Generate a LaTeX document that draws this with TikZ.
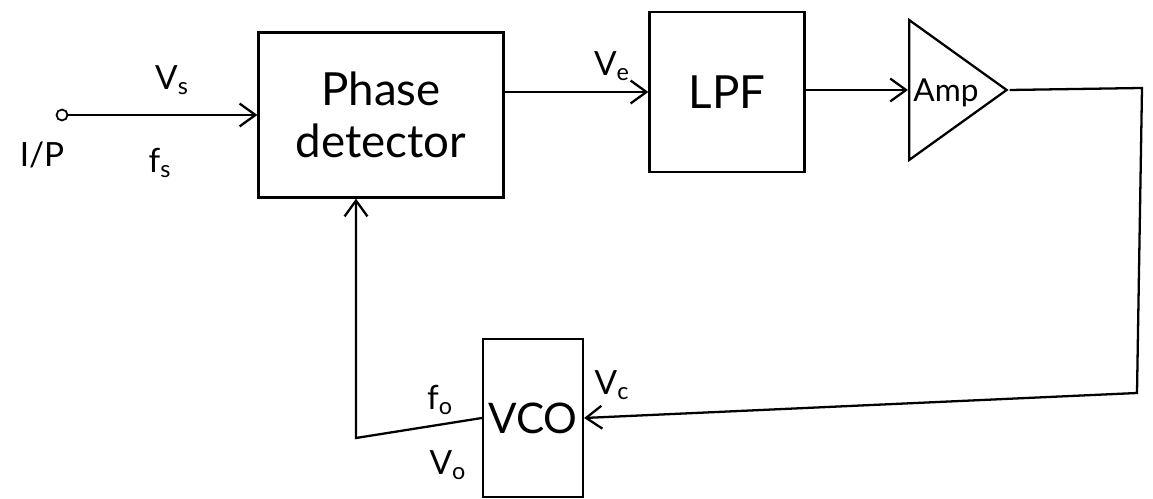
\documentclass[tikz,border=0pt]{standalone}
\usepackage{fontspec}
\setmainfont{Lato}
\usetikzlibrary{arrows.meta, positioning, shapes.geometric}

\begin{document}
\begin{tikzpicture}[
  x=0.02cm, y=-0.02cm,
  blk/.style={draw, line width=1.3pt, inner sep=0pt, align=center,
              font=\fontsize{26}{30}\selectfont},
  amp/.style={draw, line width=1.3pt, isosceles triangle, isosceles triangle stretches,
              shape border rotate=0, inner sep=0pt, minimum width=2.8cm, minimum height=1.95cm},
  arr/.style={-{Straight Barb[length=9pt, width=13pt]}, line width=1.3pt},
  lbl/.style={font=\fontsize{19}{22}\selectfont}
]
\useasboundingbox (0,0) rectangle (1153,499);

% blocks
\node[blk, minimum width=4.9cm, minimum height=3.3cm] (pd) at (381,115) {Phase\\detector};
\node[blk, minimum width=3.1cm, minimum height=3.2cm] (lpf) at (727,92) {LPF};
\node[amp, anchor=lower side] (amp) at (908,90) {};
\node[font=\fontsize{18}{20}\selectfont] (amplbl) at (946,93) {Amp};
\node[blk, minimum width=2cm, minimum height=3.15cm, font=\fontsize{24}{28}\selectfont] (vco) at (533,418) {VCO};
\node[draw, circle, line width=1pt, inner sep=2.2pt] (inp) at (62,115) {};

% corner points of the loop
\coordinate (c1) at (1142,88);
\coordinate (c2) at (1137,393);
\coordinate (fb) at (356,438);

% forward path
\draw[arr] (inp) -- (pd);
\draw[arr] (pd.east |- lpf.west) -- (lpf.west);
\draw[arr] (lpf.east |- amp.lower side) -- (amp.lower side);

% feedback path
\draw[arr] (amp.apex) -- (c1) -- (c2) -- (vco.east);
\draw[arr] (vco.west) -- (fb) -- (fb |- pd.south);

% labels
\node[lbl] (vs) at (172,80) {V\textsubscript{s}};
\node[lbl] (fs) at (160,163) {f\textsubscript{s}};
\node[lbl] (ip) at (42,155) {I/P};
\node[lbl] (ve) at (612,66) {V\textsubscript{e}};
\node[lbl] (vc) at (612,385) {V\textsubscript{c}};
\node[lbl] (fo) at (440,400) {f\textsubscript{o}};
\node[lbl] (vo) at (448,465) {V\textsubscript{o}};
\end{tikzpicture}
\end{document}
